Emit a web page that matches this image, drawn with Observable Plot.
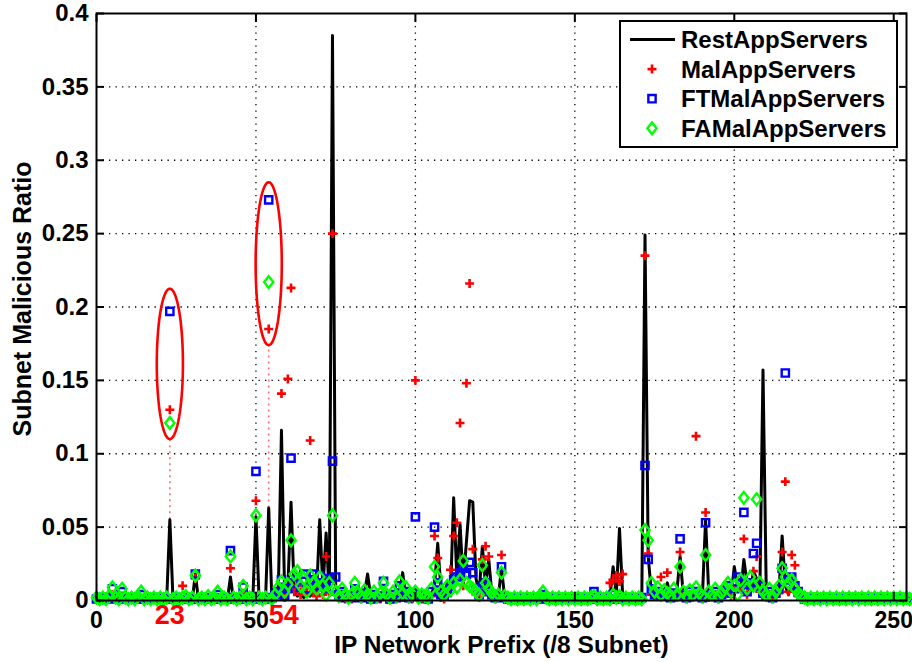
<!DOCTYPE html>
<html>
<head>
<meta charset="utf-8">
<script src="https://cdn.jsdelivr.net/npm/d3@7"></script>
<script src="https://cdn.jsdelivr.net/npm/@observablehq/plot@0.6"></script>
<style>
  body { margin: 0; background: #fff; }
  #wrap { position: relative; width: 912px; height: 662px; font-family: "Liberation Sans", Arial, sans-serif; }
  #legend { position: absolute; left: 619px; top: 20px; }
</style>
</head>
<body>
<div id="wrap"></div>
<script>
// ---------------- DATA (per /8 subnet 0..255) ----------------
const restAppServers = [
  0,0,0,0,0,0,0,0,0,0,
  0,0,0,0,0,0,0,0,0,0,
  0,0,0,0.055,0,0,0,0,0,0,
  0,0.018,0,0,0,0,0,0,0,0,
  0,0,0.016,0,0,0,0,0,0,0,
  0.057,0,0,0,0.063,0,0,0.004,0.116,0.003,
  0.008,0.067,0.006,0.003,0.005,0.002,0.004,0.003,0.006,0.004,
  0.055,0.008,0.046,0.004,0.385,0.010,0.003,0.005,0.002,0.004,
  0.002,0.003,0.006,0.002,0.004,0.018,0.003,0.002,0.005,0.002,
  0.003,0.006,0.002,0.004,0.003,0.005,0.019,0.003,0.004,0.002,
  0.008,0.003,0.005,0.002,0.003,0.004,0.010,0.039,0.008,0.003,
  0.012,0.004,0.070,0.015,0.052,0.012,0.040,0.068,0.067,0.015,
  0.005,0.037,0.010,0.028,0.004,0.002,0.003,0.022,0.002,0,
  0,0,0,0,0,0,0,0,0,0,
  0,0,0,0,0,0,0,0,0,0,
  0,0,0,0,0,0,0,0,0,0,
  0,0.002,0.023,0.004,0.049,0.003,0,0,0,0,
  0,0.002,0.249,0.030,0.005,0.003,0.008,0.004,0.006,0.012,
  0.003,0.002,0.006,0.030,0.004,0.002,0.003,0.005,0.002,0.004,
  0.003,0.055,0.004,0.002,0.003,0.005,0.002,0.004,0.008,0.003,
  0.023,0.010,0.006,0.028,0.012,0.005,0.020,0.015,0.004,0.157,
  0.010,0.003,0.005,0.002,0.006,0.044,0.010,0.004,0.015,0.006,
  0.008,0.003,0,0,0,0,0,0,0,0,
  0,0,0,0,0,0,0,0,0,0,
  0,0,0,0,0,0,0,0,0,0,
  0,0,0,0,0,0
];
const malAppServers = [
  0.001,0.001,0.002,0.001,0.001,0.004,0.001,0.001,0.003,0.001,
  0.001,0.001,0.001,0.002,0.001,0.001,0.001,0.001,0.001,0.001,
  0.001,0.001,0.001,0.130,0.001,0.001,0.001,0.010,0.001,0.001,
  0.001,0.015,0.001,0.001,0.001,0.001,0.001,0.001,0.002,0.001,
  0.001,0.001,0.022,0.001,0.001,0.001,0.005,0.001,0.001,0.001,
  0.068,0.001,0.001,0.001,0.185,0.001,0.002,0.004,0.141,0.002,
  0.151,0.213,0.006,0.010,0.004,0.008,0.005,0.109,0.007,0.003,
  0.009,0.004,0.030,0.006,0.250,0.004,0.002,0.003,0.001,0.002,
  0.001,0.003,0.002,0.001,0.002,0.001,0.001,0.002,0.001,0.001,
  0.004,0.001,0.001,0.002,0.001,0.003,0.002,0.002,0.001,0.001,
  0.150,0.002,0.001,0.001,0.001,0.003,0.044,0.029,0.002,0.001,
  0.003,0.021,0.044,0.053,0.121,0.010,0.148,0.216,0.035,0.004,
  0.002,0.028,0.037,0.030,0.003,0.001,0.002,0.031,0.001,0.001,
  0.001,0.001,0.001,0.001,0.001,0.001,0.001,0.001,0.001,0.001,
  0.001,0.001,0.001,0.001,0.001,0.001,0.001,0.001,0.001,0.001,
  0.001,0.001,0.001,0.001,0.001,0.001,0.001,0.001,0.001,0.001,
  0.001,0.012,0.014,0.017,0.013,0.018,0.002,0.001,0.001,0.001,
  0.001,0.001,0.235,0.032,0.004,0.003,0.005,0.016,0.004,0.019,
  0.002,0.003,0.002,0.033,0.003,0.001,0.004,0.002,0.112,0.002,
  0.001,0.060,0.002,0.003,0.004,0.001,0.003,0.005,0.006,0.003,
  0.006,0.010,0.008,0.042,0.004,0.008,0.020,0.030,0.006,0.003,
  0.002,0.004,0.001,0.003,0.005,0.033,0.081,0.006,0.031,0.024,
  0.003,0.002,0.001,0.001,0.001,0.001,0.001,0.001,0.001,0.001,
  0.001,0.001,0.001,0.001,0.001,0.001,0.001,0.001,0.001,0.001,
  0.001,0.001,0.001,0.001,0.001,0.001,0.001,0.001,0.001,0.001,
  0.001,0.001,0.001,0.001,0.001,0.001
];
const ftMalAppServers = [
  0.001,0.002,0.001,0.001,0.002,0.008,0.001,0.002,0.006,0.001,
  0.001,0.001,0.002,0.001,0.004,0.001,0.001,0.002,0.001,0.001,
  0.001,0.002,0.001,0.197,0.001,0.001,0.002,0.001,0.002,0.001,
  0.001,0.018,0.001,0.001,0.002,0.001,0.001,0.001,0.004,0.001,
  0.001,0.002,0.034,0.001,0.001,0.001,0.009,0.001,0.001,0.002,
  0.088,0.001,0.001,0.001,0.273,0.002,0.004,0.006,0.014,0.003,
  0.008,0.097,0.012,0.016,0.009,0.018,0.008,0.014,0.018,0.010,
  0.017,0.012,0.008,0.015,0.095,0.016,0.004,0.006,0.002,0.003,
  0.002,0.008,0.004,0.002,0.005,0.003,0.001,0.004,0.002,0.003,
  0.013,0.003,0.001,0.004,0.002,0.010,0.003,0.006,0.002,0.003,
  0.057,0.004,0.002,0.003,0.001,0.006,0.050,0.012,0.004,0.003,
  0.006,0.010,0.014,0.016,0.019,0.022,0.018,0.026,0.019,0.008,
  0.004,0.010,0.012,0.006,0.004,0.002,0.003,0.023,0.002,0.001,
  0.001,0.001,0.002,0.001,0.001,0.001,0.002,0.001,0.001,0.002,
  0.004,0.001,0.001,0.002,0.001,0.001,0.001,0.002,0.001,0.001,
  0.001,0.002,0.001,0.001,0.001,0.002,0.006,0.001,0.001,0.002,
  0.001,0.001,0.004,0.001,0.002,0.001,0.001,0.002,0.001,0.001,
  0.001,0.002,0.092,0.028,0.008,0.004,0.006,0.003,0.005,0.003,
  0.002,0.005,0.003,0.042,0.004,0.002,0.006,0.003,0.006,0.004,
  0.002,0.053,0.004,0.003,0.006,0.002,0.004,0.007,0.010,0.005,
  0.008,0.016,0.012,0.060,0.006,0.012,0.032,0.039,0.010,0.005,
  0.003,0.006,0.002,0.005,0.008,0.022,0.155,0.014,0.016,0.010,
  0.006,0.003,0.001,0.001,0.002,0.001,0.001,0.001,0.002,0.001,
  0.001,0.001,0.002,0.001,0.001,0.001,0.002,0.001,0.001,0.001,
  0.002,0.001,0.001,0.001,0.002,0.001,0.001,0.002,0.001,0.001,
  0.001,0.002,0.001,0.001,0.002,0.001
];
const faMalAppServers = [
  0.002,0.001,0.002,0.001,0.003,0.009,0.002,0.001,0.008,0.002,
  0.001,0.002,0.001,0.003,0.006,0.001,0.002,0.001,0.002,0.001,
  0.002,0.001,0.002,0.121,0.001,0.002,0.001,0.002,0.003,0.001,
  0.002,0.017,0.001,0.002,0.001,0.003,0.001,0.002,0.006,0.001,
  0.002,0.001,0.030,0.002,0.001,0.002,0.010,0.001,0.002,0.001,
  0.058,0.002,0.001,0.002,0.217,0.001,0.004,0.009,0.013,0.006,
  0.011,0.041,0.018,0.020,0.010,0.015,0.006,0.017,0.012,0.008,
  0.016,0.010,0.004,0.012,0.058,0.006,0.003,0.008,0.004,0.002,
  0.004,0.012,0.005,0.003,0.007,0.004,0.002,0.006,0.003,0.005,
  0.012,0.004,0.002,0.006,0.003,0.013,0.005,0.009,0.003,0.004,
  0.006,0.002,0.004,0.003,0.002,0.008,0.023,0.016,0.006,0.004,
  0.010,0.007,0.012,0.009,0.014,0.027,0.012,0.010,0.008,0.006,
  0.004,0.024,0.012,0.008,0.005,0.003,0.004,0.019,0.003,0.002,
  0.001,0.002,0.001,0.002,0.001,0.002,0.001,0.002,0.001,0.003,
  0.006,0.002,0.001,0.002,0.001,0.002,0.001,0.002,0.001,0.002,
  0.001,0.002,0.001,0.002,0.001,0.002,0.003,0.001,0.002,0.001,
  0.002,0.001,0.004,0.002,0.003,0.001,0.002,0.001,0.002,0.001,
  0.002,0.001,0.048,0.041,0.012,0.006,0.009,0.004,0.007,0.005,
  0.003,0.008,0.004,0.023,0.006,0.003,0.007,0.004,0.009,0.005,
  0.003,0.031,0.006,0.004,0.008,0.003,0.005,0.009,0.012,0.006,
  0.010,0.004,0.014,0.070,0.008,0.016,0.010,0.069,0.012,0.006,
  0.004,0.008,0.003,0.006,0.010,0.022,0.016,0.012,0.014,0.008,
  0.005,0.003,0.002,0.001,0.002,0.001,0.002,0.001,0.002,0.001,
  0.002,0.001,0.002,0.001,0.002,0.001,0.002,0.001,0.002,0.001,
  0.002,0.001,0.002,0.001,0.002,0.001,0.002,0.001,0.002,0.001,
  0.002,0.001,0.002,0.001,0.002,0.001
];

// axis ticks
const xTicks = [0, 50, 100, 150, 200, 250];
const yTicks = [0, 0.05, 0.1, 0.15, 0.2, 0.25, 0.3, 0.35, 0.4];

// highlighted subnets (ellipse annotations)
const highlightSubnet = [23, 54];
const highlightPeak = [0.055, 0.063];      // top of RestAppServers peak
const ellipseLow = [0.110, 0.174];
const ellipseHigh = [0.2125, 0.285];
const ellipseHalfWidth = [4.1, 4.1];        // in subnet units
const highlightLabelShift = [0, 15];        // label nudge (px)

// legend
const legendLabels = ["RestAppServers", "MalAppServers", "FTMalAppServers", "FAMalAppServers"];

// ---------------- BUILD ----------------
const toRows = arr => arr.map((v, i) => ({subnet: i, ratio: v}));
const restRows = toRows(restAppServers);
const malRows = toRows(malAppServers);
const ftRows = toRows(ftMalAppServers);
const faRows = toRows(faMalAppServers);

const highlights = highlightSubnet.map((s, i) => ({
  subnet: s, peak: highlightPeak[i], low: ellipseLow[i], high: ellipseHigh[i], hw: ellipseHalfWidth[i],
  label: String(s), shift: highlightLabelShift[i]
}));
const ellipsePts = highlights.flatMap((h, id) => d3.range(72).map(k => {
  const a = 2 * Math.PI * k / 72;
  return {id, subnet: h.subnet + h.hw * Math.cos(a), ratio: (h.low + h.high) / 2 + (h.high - h.low) / 2 * Math.sin(a)};
}));

const diamondSymbol = {
  draw(ctx) { const w = 4.6, h = 5.9; ctx.moveTo(0, -h); ctx.lineTo(w, 0); ctx.lineTo(0, h); ctx.lineTo(-w, 0); ctx.closePath(); }
};
const fmtY = d => String(+d.toFixed(2));
const FONT = '"Liberation Sans", Arial, Helvetica, sans-serif';

const chart = Plot.plot({
  width: 912,
  height: 662,
  marginLeft: 96,
  marginRight: 6,
  marginTop: 13,
  marginBottom: 62,
  x: {domain: [0, 254], label: null},
  y: {domain: [0, 0.4], label: null},
  style: {fontFamily: FONT, fontWeight: "bold", fontSize: "24px", color: "#000", background: "#fff", overflow: "visible"},
  marks: [
    Plot.ruleX(xTicks.filter(d => d > 0), {stroke: "#000", strokeWidth: 1.3, strokeDasharray: "1.3,5.2"}),
    Plot.ruleY(yTicks.filter(d => d > 0 && d < 0.4), {stroke: "#000", strokeWidth: 1.3, strokeDasharray: "1.3,5.2"}),
    Plot.ruleX(highlights, {x: "subnet", y1: "peak", y2: "low", stroke: "#ff3030", strokeOpacity: 0.7, strokeWidth: 1.6, strokeDasharray: "2,4"}),
    Plot.line(restRows, {x: "subnet", y: "ratio", stroke: "#000", strokeWidth: 3}),
    Plot.dot(malRows, {x: "subnet", y: "ratio", symbol: "plus", r: 3, stroke: "#ff0000", fill: "none", strokeWidth: 2.6}),
    Plot.dot(ftRows, {x: "subnet", y: "ratio", symbol: "square", r: 4.1, stroke: "#0000ff", fill: "none", strokeWidth: 2.4}),
    Plot.dot(faRows, {x: "subnet", y: "ratio", symbol: diamondSymbol, stroke: "#00ff00", fill: "none", strokeWidth: 2.4}),
    Plot.line(ellipsePts, {x: "subnet", y: "ratio", z: "id", curve: "linear-closed", stroke: "#ff0000", strokeWidth: 2.6}),
    Plot.frame({stroke: "#000", strokeWidth: 2}),
    Plot.axisX(xTicks, {anchor: "bottom", tickSize: -8, strokeWidth: 2, tickFormat: () => "", label: null}),
    Plot.axisX(xTicks, {anchor: "top", tickSize: -8, strokeWidth: 2, tickFormat: () => "", label: null}),
    Plot.axisY(yTicks, {anchor: "left", tickSize: -8, strokeWidth: 2, tickFormat: () => "", label: null}),
    Plot.axisY(yTicks, {anchor: "right", tickSize: -8, strokeWidth: 2, tickFormat: () => "", label: null}),
    Plot.axisX(xTicks, {anchor: "bottom", tickSize: 0, tickPadding: 11, fontSize: 23, fontWeight: "bold", label: null}),
    Plot.axisY(yTicks, {anchor: "left", tickSize: 0, tickPadding: 8, fontSize: 24, fontWeight: "bold", tickFormat: fmtY, label: null}),
    Plot.text(highlights.slice(0, 1), {x: "subnet", frameAnchor: "bottom", lineAnchor: "middle", text: "label", dy: 15,
      fill: "#ff0000", fontSize: 27, fontWeight: "bold"}),
    Plot.text(highlights.slice(1), {x: "subnet", frameAnchor: "bottom", lineAnchor: "middle", text: "label", dy: 15, dx: highlightLabelShift[1],
      fill: "#ff0000", fontSize: 27, fontWeight: "bold"}),
    Plot.text(["IP Network Prefix (/8 Subnet)"], {frameAnchor: "bottom", lineAnchor: "middle", textAnchor: "middle", dy: 45,
      fontSize: 24.5, fontWeight: "bold", fill: "#000"}),
    Plot.text(["Subnet Malicious Ratio"], {frameAnchor: "left", lineAnchor: "middle", textAnchor: "middle", dx: -74, dy: -8,
      rotate: -90, fontSize: 25, fontWeight: "bold", fill: "#000"})
  ]
});
document.getElementById("wrap").appendChild(chart);

// ---------------- LEGEND ----------------
const legend = d3.select("#wrap").append("svg")
  .attr("id", "legend").attr("width", 280).attr("height", 129);
legend.append("rect").attr("x", 1).attr("y", 1).attr("width", 277).attr("height", 126)
  .attr("fill", "#fff").attr("stroke", "#000").attr("stroke-width", 2);
const rowY = i => 19.5 + i * 29.6;
legend.append("line").attr("x1", 11).attr("x2", 56).attr("y1", rowY(0)).attr("y2", rowY(0)).attr("stroke", "#000").attr("stroke-width", 3);
legend.append("path").attr("d", d3.symbol(d3.symbolPlus, Math.PI * 9)()).attr("transform", `translate(33,${rowY(1)})`)
  .attr("stroke", "#ff0000").attr("stroke-width", 2.6).attr("fill", "none");
legend.append("path").attr("d", d3.symbol(d3.symbolSquare, Math.PI * 4.1 * 4.1)()).attr("transform", `translate(33,${rowY(2)})`)
  .attr("stroke", "#0000ff").attr("stroke-width", 2.4).attr("fill", "none");
legend.append("path").attr("d", d3.symbol(diamondSymbol)()).attr("transform", `translate(33,${rowY(3)})`)
  .attr("stroke", "#00ff00").attr("stroke-width", 2.4).attr("fill", "none");
legend.selectAll("text.lab").data(legendLabels).join("text").attr("class", "lab")
  .attr("x", 62).attr("y", (d, i) => rowY(i)).attr("dy", "0.36em")
  .attr("font-family", FONT).attr("font-weight", "bold").attr("font-size", 24).text(d => d);
</script>
</body>
</html>
